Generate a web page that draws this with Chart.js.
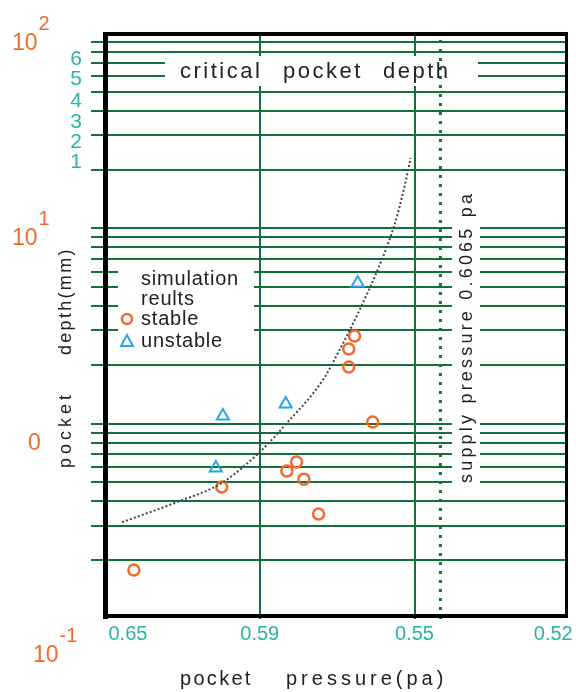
<!DOCTYPE html>
<html>
<head>
<meta charset="utf-8">
<script src="https://cdn.jsdelivr.net/npm/chart.js@4.4.1/dist/chart.umd.min.js"></script>
<style>
html,body{margin:0;padding:0;background:#fff;}
#wrap{width:576px;height:692px;}
</style>
</head>
<body>
<div id="wrap"><canvas id="c" width="576" height="692"></canvas></div>
<script>
// ---------- data ----------
const xTickValues = [0.65, 0.59, 0.55, 0.52];
const xTickLabels = ['0.65', '0.59', '0.55', '0.52'];
const xGridValues = [0.59, 0.55];

const yGridValues = [0.2,0.3,0.4,0.5,0.6,0.7,0.8,0.9,1,2,3,4,5,6,7,8,9,10,20,30,40,50,60,70,80,90];
const yMinorLabels = ['6','5','4','3','2','1'];
const yMinorLabelAt = [68.6, 54.2, 41.8, 32.6, 25.8, 20.4];
const yMajorLabelBase = ['10','10','0','10'];
const yMajorLabelExp = ['2','1','','-1'];
const yMajorLabelAt = [81.8, 8.21, 0.733, 0.0602];

const stablePressure = [0.5608, 0.5805, 0.5830, 0.5786, 0.6073, 0.5748, 0.6473, 0.5655, 0.5670, 0.5670];
const stableDepth    = [1.02,   0.636,  0.572,  0.520,  0.4735, 0.3445, 0.178,  2.81,   2.41,   1.95];

const unstablePressure = [0.6068, 0.5833, 0.6100, 0.5647];
const unstableDepth    = [1.094,  1.26,   0.593,  5.25];

const curvePressure = [0.6527, 0.6277, 0.6073, 0.5900, 0.5830, 0.5737, 0.5694, 0.5642, 0.5590, 0.5552, 0.5528, 0.5510];
const curveDepth    = [0.313,  0.397,  0.497,  0.716,  1.007,  1.672,  2.38,   3.82,   6.49,   10.4,   15.7,   22.9];

const supplyPressure = [0.5444, 0.5444];
const supplyDepth    = [0.1, 100];

// ---------- piecewise axis (the original pressure axis is not linear) ----------
class PiecewiseScale extends Chart.LinearScale {
  _map(value) {
    const a = this.options.anchors;
    const v = a.values, f = a.fractions;
    for (let i = 0; i < v.length - 1; i++) {
      const lo = Math.min(v[i], v[i+1]), hi = Math.max(v[i], v[i+1]);
      if (value >= lo && value <= hi || i === v.length - 2) {
        return f[i] + (value - v[i]) / (v[i+1] - v[i]) * (f[i+1] - f[i]);
      }
    }
    return 0;
  }
  getPixelForValue(value) {
    if (value === null || value === undefined || isNaN(value)) return NaN;
    return this.getPixelForDecimal(this._map(value));
  }
  getValueForPixel(pixel) {
    const a = this.options.anchors;
    const v = a.values, f = a.fractions;
    const d = this.getDecimalForPixel(pixel);
    for (let i = 0; i < f.length - 1; i++) {
      if (d <= f[i+1] || i === f.length - 2) {
        return v[i] + (d - f[i]) / (f[i+1] - f[i]) * (v[i+1] - v[i]);
      }
    }
    return v[0];
  }
}
PiecewiseScale.id = 'piecewise';
PiecewiseScale.defaults = Chart.LinearScale.defaults;
Chart.register(PiecewiseScale);

const GREEN = '#13703b';
const TEAL = '#2ab3a6';
const ORANGE = '#f26a2c';
const BLUE = '#2aa8df';
const FONT = '"Liberation Sans", Arial, Helvetica, sans-serif';

Chart.defaults.font.family = FONT;

const toXY = (xs, ys) => xs.map((x, i) => ({x: x, y: ys[i]}));

const decorPlugin = {
  id: 'decor',
  beforeDatasetsDraw(chart) {
    const ctx = chart.ctx;
    ctx.save();
    ctx.fillStyle = '#fff';
    ctx.fillRect(165, 56, 313, 30);   // critical pocket depth box
    ctx.fillRect(118, 265, 136, 76);  // legend box
    ctx.fillRect(452, 178, 28, 313);  // supply pressure box
    ctx.restore();
  },
  afterDraw(chart) {
    const ctx = chart.ctx;
    const ys = chart.scales.y;
    ctx.save();
    // frame
    ctx.fillStyle = '#000';
    ctx.fillRect(103, 32, 5, 587);
    ctx.fillRect(103, 32, 465, 4);
    ctx.fillRect(103, 614, 465, 4);
    ctx.fillRect(565, 32, 3, 586);

    // teal y labels
    ctx.fillStyle = TEAL;
    ctx.font = '21px ' + FONT;
    ctx.textAlign = 'right';
    ctx.textBaseline = 'alphabetic';
    yMinorLabels.forEach((t, i) => {
      ctx.fillText(t, 82, ys.getPixelForValue(yMinorLabelAt[i]));
    });
    // orange y labels
    ctx.fillStyle = ORANGE;
    ctx.textAlign = 'left';
    const majorX = [12, 12, 28, 33];
    yMajorLabelBase.forEach((t, i) => {
      const by = ys.getPixelForValue(yMajorLabelAt[i]);
      ctx.font = '23px ' + FONT;
      ctx.fillText(t, majorX[i], by);
      const w = ctx.measureText(t).width;
      if (yMajorLabelExp[i]) {
        ctx.font = '20px ' + FONT;
        ctx.fillText(yMajorLabelExp[i], majorX[i] + w + 1, by - 20);
      }
    });

    // critical pocket depth
    ctx.fillStyle = '#222';
    ctx.font = '22px ' + FONT;
    ctx.letterSpacing = '2.5px';
    ctx.fillText('critical', 180, 78);
    ctx.fillText('pocket', 283, 78);
    ctx.fillText('depth', 383, 78);

    // legend
    ctx.font = '20px ' + FONT;
    ctx.letterSpacing = '0.8px';
    ctx.fillStyle = '#222';
    ctx.fillText('simulation', 141, 285);
    ctx.fillText('reults', 141, 305);
    ctx.fillText('stable', 141, 325);
    ctx.fillText('unstable', 141, 347);
    ctx.letterSpacing = '0px';
    ctx.strokeStyle = ORANGE;
    ctx.lineWidth = 2.5;
    ctx.beginPath();
    ctx.arc(127, 319, 5, 0, Math.PI * 2);
    ctx.stroke();
    ctx.strokeStyle = BLUE;
    ctx.lineWidth = 2;
    ctx.beginPath();
    ctx.moveTo(127, 335);
    ctx.lineTo(121, 346);
    ctx.lineTo(133, 346);
    ctx.closePath();
    ctx.stroke();

    // supply pressure text (rotated)
    ctx.save();
    ctx.translate(472, 483);
    ctx.rotate(-Math.PI / 2);
    ctx.fillStyle = '#222';
    ctx.font = '18px ' + FONT;
    ctx.letterSpacing = '3.2px';
    ctx.textAlign = 'left';
    ctx.fillText('supply pressure 0.6065 pa', 0, 0);
    ctx.restore();

    // y axis title (rotated)
    ctx.save();
    ctx.translate(71, 468);
    ctx.rotate(-Math.PI / 2);
    ctx.fillStyle = '#222';
    ctx.font = '18px ' + FONT;
    ctx.textAlign = 'left';
    ctx.letterSpacing = '4px';
    ctx.fillText('pocket', 0, 0);
    ctx.letterSpacing = '2.3px';
    ctx.fillText('depth(mm)', 113, 0);
    ctx.restore();

    // x axis title
    ctx.fillStyle = '#222';
    ctx.font = '20px ' + FONT;
    ctx.textAlign = 'left';
    ctx.letterSpacing = '2.3px';
    ctx.fillText('pocket', 180, 685);
    ctx.letterSpacing = '4px';
    ctx.fillText('pressure(pa)', 286, 685);
    ctx.restore();
  }
};

new Chart(document.getElementById('c'), {
  type: 'scatter',
  data: {
    datasets: [
      {
        label: 'critical pocket depth',
        type: 'line',
        data: toXY(curvePressure, curveDepth),
        borderColor: '#444',
        borderWidth: 2,
        borderDash: [2, 2.2],
        pointRadius: 0,
        fill: false,
        cubicInterpolationMode: 'monotone'
      },
      {
        label: 'supply pressure',
        type: 'line',
        data: toXY(supplyPressure, supplyDepth),
        borderColor: GREEN,
        borderWidth: 3,
        borderDash: [3, 6],
        pointRadius: 0,
        fill: false
      },
      {
        label: 'stable',
        data: toXY(stablePressure, stableDepth),
        pointStyle: 'circle',
        pointRadius: 5.5,
        pointBorderWidth: 2.5,
        borderColor: ORANGE,
        backgroundColor: 'rgba(255,255,255,0)'
      },
      {
        label: 'unstable',
        data: toXY(unstablePressure, unstableDepth),
        pointStyle: 'triangle',
        pointRadius: 7,
        pointBorderWidth: 2,
        borderColor: BLUE,
        backgroundColor: 'rgba(255,255,255,0)'
      }
    ]
  },
  options: {
    responsive: false,
    animation: false,
    devicePixelRatio: 1,
    layout: { padding: { top: 33, right: 9, left: 0, bottom: 0 } },
    plugins: { legend: { display: false }, tooltip: { enabled: false } },
    scales: {
      x: {
        type: 'piecewise',
        position: 'bottom',
        min: 0.5172,
        max: 0.66,
        anchors: {
          values: [0.660, 0.65, 0.59, 0.55, 0.52, 0.5172],
          fractions: [0, 0.0477, 0.3341, 0.6703, 0.9718, 1]
        },
        afterBuildTicks: (s) => { s.ticks = xTickValues.map(v => ({ value: v })); },
        afterFit: (s) => { s.height = 73; },
        border: { display: false },
        grid: {
          drawTicks: false,
          lineWidth: 2,
          color: (c) => (c.tick && xGridValues.includes(c.tick.value)) ? GREEN : 'rgba(0,0,0,0)'
        },
        ticks: {
          padding: 3,
          color: TEAL,
          font: { size: 20 },
          maxRotation: 0,
          autoSkip: false,
          callback: (v, i) => xTickLabels[i]
        }
      },
      y: {
        type: 'logarithmic',
        min: 0.1,
        max: 100,
        afterBuildTicks: (s) => { s.ticks = yGridValues.map(v => ({ value: v })); },
        afterFit: (s) => { s.width = 106; },
        border: { display: false },
        grid: {
          color: GREEN,
          lineWidth: 2,
          drawTicks: true,
          tickLength: 15
        },
        ticks: { display: false }
      }
    }
  },
  plugins: [decorPlugin]
});
</script>
</body>
</html>
